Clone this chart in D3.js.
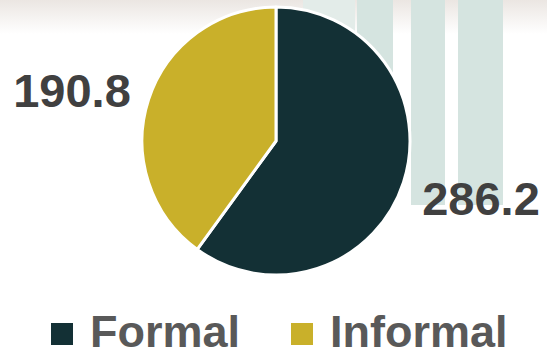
<!DOCTYPE html>
<html>
<head>
<meta charset="utf-8">
<script src="https://cdn.jsdelivr.net/npm/d3@7"></script>
<style>
  html, body { margin: 0; padding: 0; background: #fff; }
  svg { display: block; }
</style>
</head>
<body>
<div id="chart"></div>
<script>
// data
const categories = ["Formal", "Informal"];
const values = [286.2, 190.8];
const colors = ["#133035", "#c9b02a"];
// decorative background columns (x from, x to)
const bgCols = [[303, 355], [357, 393], [411, 445], [458, 503]];

const W = 547, H = 357;
const cx = 276, cy = 141, R = 134;

const svg = d3.select("#chart").append("svg")
  .attr("width", W).attr("height", H);

const defs = svg.append("defs");
const grad = defs.append("linearGradient")
  .attr("id", "topfade").attr("x1", 0).attr("y1", 0).attr("x2", 0).attr("y2", 1);
grad.append("stop").attr("offset", "0%").attr("stop-color", "#ebe6e2");
grad.append("stop").attr("offset", "100%").attr("stop-color", "#ffffff");

// faded photo strip on top
svg.append("rect")
  .attr("x", 0).attr("y", 0).attr("width", W).attr("height", 34)
  .attr("fill", "url(#topfade)");

// pale teal columns behind the pie
svg.selectAll("rect.bgcol")
  .data(bgCols)
  .join("rect")
    .attr("class", "bgcol")
    .attr("x", d => d[0])
    .attr("y", 0)
    .attr("width", d => d[1] - d[0])
    .attr("height", 205)
    .attr("fill", (d, i) => i === 0 ? "#e3ece9" : "#d5e4e0");

const data = categories.map((c, i) => ({ name: c, value: values[i], color: colors[i] }));

const pie = d3.pie().sort(null).value(d => d.value);
const arc = d3.arc().innerRadius(0).outerRadius(R);

const g = svg.append("g").attr("transform", `translate(${cx},${cy})`);

g.selectAll("path")
  .data(pie(data))
  .join("path")
    .attr("d", arc)
    .attr("fill", d => d.data.color)
    .attr("stroke", "#fff")
    .attr("stroke-width", 3)
    .attr("stroke-linejoin", "round");

// value labels
const labelPos = [[481, 215], [72, 107]];
svg.selectAll("text.val")
  .data(data)
  .join("text")
    .attr("class", "val")
    .attr("x", (d, i) => labelPos[i][0])
    .attr("y", (d, i) => labelPos[i][1])
    .attr("text-anchor", "middle")
    .attr("font-family", "Liberation Sans, Arial, sans-serif")
    .attr("font-weight", "bold")
    .attr("font-size", 47)
    .attr("fill", "#404040")
    .text(d => d.value.toFixed(1));

// legend
const legendX = [51, 291];
const leg = svg.selectAll("g.leg")
  .data(data)
  .join("g")
    .attr("class", "leg")
    .attr("transform", (d, i) => `translate(${legendX[i]},323)`);

leg.append("rect")
  .attr("width", 22).attr("height", 22)
  .attr("fill", d => d.color);

leg.append("text")
  .attr("x", 39)
  .attr("y", 24)
  .attr("font-family", "Liberation Sans, Arial, sans-serif")
  .attr("font-weight", "bold")
  .attr("font-size", 45)
  .attr("fill", "#595959")
  .text(d => d.name);
</script>
</body>
</html>
